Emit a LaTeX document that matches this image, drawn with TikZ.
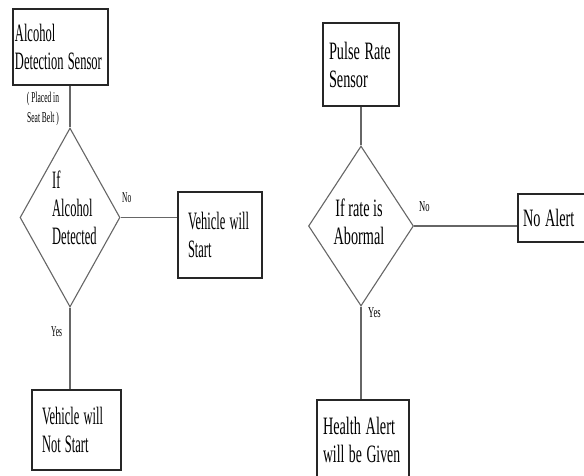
\documentclass[tikz,border=0pt]{standalone}
\usepackage{fontspec}
\setmainfont{Liberation Serif}
\newcommand{\sqz}[1]{\scalebox{0.5}[1]{#1}}
\newcommand{\sqr}[1]{\scalebox{0.57}[1]{#1}}
\usetikzlibrary{shapes.geometric}
\begin{document}
\begin{tikzpicture}[x=1pt,y=-1pt,
  box/.style={draw=black!85,line width=1.1pt,rectangle,align=left,inner ysep=0pt,
    font=\fontsize{25}{28}\selectfont},
  dec/.style={draw=black!60,line width=1.1pt,diamond,inner sep=0pt},
  dtext/.style={align=left,inner sep=0pt,font=\fontsize{25}{28}\selectfont},
  lbl/.style={inner sep=0pt,font=\fontsize{15}{20}\selectfont},
  conn/.style={draw=black!60,line width=1.2pt}]
\useasboundingbox (0,0) rectangle (584,475);
\fill[white] (0,0) rectangle (584,475);
% left chart
\node[box,minimum width=95pt,minimum height=76pt,inner xsep=2pt,text width=91pt] (s1) at (60.5,47) {\sqz{Alcohol}\\\sqz{Detection Sensor}};
\node[lbl,align=center] (pl) at (43,109) {\sqz{( Placed in}\\\sqz{Seat Belt )}};
\node[dec,minimum width=100pt,minimum height=179pt] (d1) at (70,217.5) {};
\node[dtext,anchor=west] (t1) at (52,208) {\sqz{If}\\\sqz{Alcohol}\\\sqz{Detected}};
\node[box,minimum width=84pt,minimum height=86pt,inner xsep=10pt,text width=64pt] (b2) at (220,235) {\sqz{Vehicle will}\\\sqz{Start}};
\node[box,minimum width=89pt,minimum height=80pt,inner xsep=10pt,text width=69pt] (b3) at (76.5,430) {\sqz{Vehicle will}\\\sqz{Not Start}};
\node[lbl,anchor=west] (no1) at (122,198) {\sqz{No}};
\node[lbl,anchor=west] (yes1) at (51,332) {\sqz{Yes}};
\draw[conn] (d1.north |- s1.south) -- (d1.north);
\draw[conn] (d1.east) -- (d1.east -| b2.west);
\draw[conn] (d1.south) -- (d1.south |- b3.north);
% right chart
\node[box,minimum width=76pt,minimum height=83pt,inner xsep=6pt,text width=64pt] (s2) at (361,64.5) {\sqr{Pulse Rate}\\\sqr{Sensor}};
\node[dec,minimum width=105pt,minimum height=160pt] (d2) at (361,226) {};
\node[dtext,align=center,anchor=center] (t2) at (359,222) {\sqr{If rate is}\\\sqr{Abormal}};
\node[box,minimum width=72pt,minimum height=48pt,inner xsep=5pt,text width=62pt] (na) at (554,218) {\sqr{No Alert}};
\node[box,minimum width=92pt,minimum height=80pt,inner xsep=6pt,text width=80pt] (ha) at (363,440) {\sqr{Health Alert}\\\scalebox{0.55}[1]{will be Given}};
\node[lbl,anchor=west] (no2) at (419,207) {\sqr{No}};
\node[lbl,anchor=west] (yes2) at (368,313) {\sqr{Yes}};
\draw[conn] (s2.south) -- (d2.north);
\draw[conn] (d2.east) -- (d2.east -| na.west);
\draw[conn] (d2.south) -- (d2.south |- ha.north);
\end{tikzpicture}
\end{document}
